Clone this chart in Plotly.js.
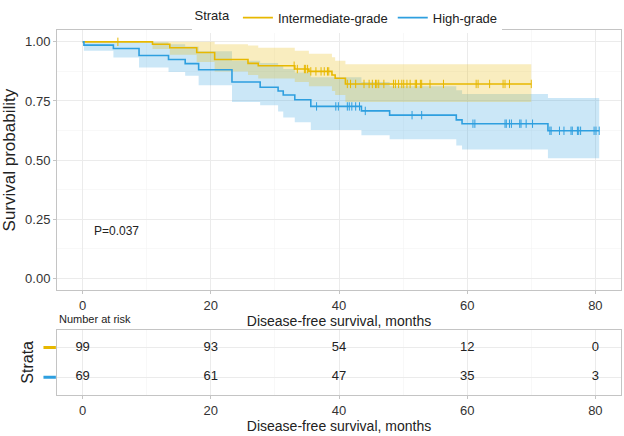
<!DOCTYPE html>
<html>
<head>
<meta charset="utf-8">
<script src="https://cdn.plot.ly/plotly-3.0.1.min.js"></script>
<style>
  html, body { margin: 0; padding: 0; background: #fff; }
  #chart { width: 624px; height: 436px; }
</style>
</head>
<body>
<div id="chart"></div>
<script>
// strata
let strataNames = ['Intermediate-grade', 'High-grade'];
let strataColors = ['#E7B800', '#2E9FDF'];
let strataFills = ['rgba(231,184,0,0.25)', 'rgba(46,159,223,0.25)'];

// Intermediate-grade KM curve (months, survival, 95% CI)
let intTime  = [0, 10.9, 13.6, 17.8, 20.6, 25.8, 27.4, 33.1, 35.3, 38.9, 39.4, 41.0, 70.0];
let intSurv  = [1, 0.990, 0.975, 0.955, 0.925, 0.909, 0.899, 0.885, 0.875, 0.860, 0.846, 0.822, 0.822];
let intUpper = [1, 1.000, 1.000, 1.000, 0.990, 0.985, 0.975, 0.962, 0.950, 0.935, 0.920, 0.905, 0.905];
let intLower = [1, 0.970, 0.945, 0.915, 0.875, 0.860, 0.845, 0.830, 0.812, 0.792, 0.775, 0.746, 0.746];
let intCensor = [5.5, 33.0, 33.5, 34.6, 34.8, 35.1, 35.6, 36.4, 37.2, 37.7, 38.2, 38.4, 41.3, 41.8,
  42.6, 43.9, 44.7, 45.2, 45.7, 45.9, 46.2, 47.0, 48.5, 48.8, 49.3, 49.8, 50.1, 50.6, 51.1, 51.9,
  52.1, 52.7, 52.9, 54.2, 56.3, 61.4, 61.7, 63.5, 65.6, 65.9, 66.6, 70.0];

// High-grade KM curve
let highTime  = [0, 0.2, 4.8, 8.8, 13.4, 16.0, 18.1, 23.3, 27.7, 30.5, 31.3, 33.1, 35.6, 43.5, 47.9, 58.3, 59.2, 72.6, 80.6];
let highSurv  = [1, 0.986, 0.972, 0.942, 0.925, 0.908, 0.882, 0.830, 0.808, 0.792, 0.775, 0.755, 0.727, 0.708, 0.690, 0.670, 0.654, 0.624, 0.624];
let highUpper = [1, 1.000, 1.000, 0.998, 0.990, 0.980, 0.960, 0.920, 0.910, 0.900, 0.885, 0.870, 0.850, 0.830, 0.812, 0.795, 0.780, 0.763, 0.763];
let highLower = [1, 0.962, 0.934, 0.892, 0.872, 0.857, 0.816, 0.746, 0.732, 0.705, 0.680, 0.660, 0.627, 0.605, 0.588, 0.562, 0.545, 0.508, 0.508];
let highCensor = [36.5, 39.5, 39.9, 41.3, 41.6, 42.0, 42.6, 43.2, 44.1, 51.4, 52.9, 60.9, 61.2, 65.9,
  66.1, 66.6, 66.9, 68.2, 68.4, 69.2, 70.2, 72.9, 73.1, 74.4, 75.1, 76.2, 76.4, 77.2, 77.4, 77.7,
  79.8, 80.1, 80.6];

// number at risk table
let riskTimes = [0, 20, 40, 60, 80];
let riskInt  = [99, 93, 54, 12, 0];
let riskHigh = [69, 61, 47, 35, 3];

let pText = 'P=0.037';

let fontFam = '"Liberation Sans", Arial, Helvetica, sans-serif';
let gridCol = '#ebebeb';
let boxCol = '#c4c4c4';

function survAt(times, surv, t){
    let s = surv[0];
    for (let i = 0; i < times.length; i++){
        if (times[i] <= t) s = surv[i];
    }
    return s;
}

function bandTraces(times, upper, lower, fill){
    return [
        {x: times, y: upper, mode: 'lines', line: {width: 0, shape: 'hv'},
         showlegend: false, hoverinfo: 'skip', xaxis: 'x', yaxis: 'y'},
        {x: times, y: lower, mode: 'lines', line: {width: 0, shape: 'hv'},
         fill: 'tonexty', fillcolor: fill, showlegend: false, hoverinfo: 'skip', xaxis: 'x', yaxis: 'y'}
    ];
}

function curveTrace(times, surv, name, color){
    return {x: times, y: surv, name: name, mode: 'lines',
            line: {color: color, width: 1.6, shape: 'hv'}, xaxis: 'x', yaxis: 'y'};
}

function censorTrace(cens, times, surv, color){
    let ys = cens.map(t => survAt(times, surv, t));
    return {x: cens, y: ys, mode: 'markers', showlegend: false,
            marker: {symbol: 'line-ns', size: 6, line: {color: color, width: 1}},
            xaxis: 'x', yaxis: 'y'};
}

let data = [];
data = data.concat(bandTraces(highTime, highUpper, highLower, strataFills[1]));
data = data.concat(bandTraces(intTime, intUpper, intLower, strataFills[0]));
data.push(curveTrace(intTime, intSurv, strataNames[0], strataColors[0]));
data.push(curveTrace(highTime, highSurv, strataNames[1], strataColors[1]));
data.push(censorTrace(intCensor, intTime, intSurv, strataColors[0]));
data.push(censorTrace(highCensor, highTime, highSurv, strataColors[1]));

// risk table text
data.push({x: riskTimes, y: riskTimes.map(() => 2), text: riskInt.map(String), mode: 'text',
           textfont: {size: 13, color: '#222', family: fontFam}, showlegend: false,
           xaxis: 'x2', yaxis: 'y2', hoverinfo: 'skip'});
data.push({x: riskTimes, y: riskTimes.map(() => 1), text: riskHigh.map(String), mode: 'text',
           textfont: {size: 13, color: '#222', family: fontFam}, showlegend: false,
           xaxis: 'x2', yaxis: 'y2', hoverinfo: 'skip'});

let xBase = {
    range: [-4, 84], tickvals: [0, 20, 40, 60, 80], ticks: 'outside', ticklen: 3,
    tickcolor: boxCol, showline: true, mirror: true, linecolor: boxCol, linewidth: 1,
    showgrid: true, gridcolor: gridCol, gridwidth: 1, zeroline: false,
    minor: {dtick: 10, showgrid: true, gridcolor: '#f3f3f3', gridwidth: 0.6},
    tickfont: {size: 13, color: '#333'},
    title: {text: 'Disease-free survival, months', font: {size: 14, color: '#222'}, standoff: 0}
};

let layout = {
    width: 624, height: 436,
    margin: {l: 57, r: 3, t: 27, b: 41},
    paper_bgcolor: '#fff', plot_bgcolor: '#fff',
    font: {family: fontFam, color: '#222'},
    showlegend: true,
    legend: {orientation: 'h', x: 0.515, xanchor: 'center', y: 1.075, yanchor: 'top',
             traceorder: 'normal',
             title: {text: 'Strata', font: {size: 13}}, font: {size: 13}, itemwidth: 30,
             tracegroupgap: 0},
    xaxis: Object.assign({}, xBase, {anchor: 'y'}),
    yaxis: {
        domain: [0.287, 1], range: [-0.05, 1.05], tickvals: [0, 0.25, 0.5, 0.75, 1],
        tickformat: '.2f', ticks: 'outside', ticklen: 3, tickcolor: boxCol,
        showline: true, mirror: true, linecolor: boxCol, linewidth: 1,
        showgrid: true, gridcolor: gridCol, zeroline: false,
        minor: {dtick: 0.125, showgrid: true, gridcolor: '#f3f3f3', gridwidth: 0.6},
        tickfont: {size: 13, color: '#333'},
        title: {text: 'Survival probability', font: {size: 17, color: '#222'}, standoff: 6}
    },
    xaxis2: Object.assign({}, xBase, {anchor: 'y2'}),
    yaxis2: {
        domain: [0, 0.179], range: [0.4, 2.6], tickvals: [1, 2], showticklabels: false,
        ticks: '', showline: true, mirror: true, linecolor: boxCol, linewidth: 1,
        showgrid: true, gridcolor: gridCol, zeroline: false,
        title: {text: 'Strata', font: {size: 16, color: '#222'}, standoff: 18}
    },
    annotations: [
        {text: pText, xref: 'x', yref: 'y', x: 1.4, y: 0.2, xanchor: 'left', showarrow: false,
         font: {size: 12, color: '#222'}},
        {text: 'Number at risk', xref: 'paper', yref: 'paper', x: 0.0, y: 0.209, xanchor: 'left',
         yanchor: 'middle', showarrow: false, font: {size: 11, color: '#222'}}
    ],
    shapes: [
        {type: 'line', xref: 'paper', yref: 'y2', x0: -0.024, x1: -0.002, y0: 2, y1: 2,
         line: {color: strataColors[0], width: 3}},
        {type: 'line', xref: 'paper', yref: 'y2', x0: -0.024, x1: -0.002, y0: 1, y1: 1,
         line: {color: strataColors[1], width: 3}}
    ]
};

Plotly.newPlot('chart', data, layout, {displayModeBar: false, staticPlot: true});
</script>
</body>
</html>
